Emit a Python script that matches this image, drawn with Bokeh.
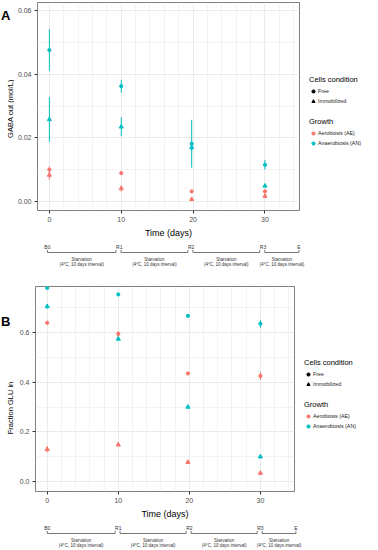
import math
from bokeh.plotting import figure
from bokeh.models import (Range1d, FixedTicker, Legend, LegendItem,
                          ColumnDataSource, PrintfTickFormatter, Spacer)
from bokeh.layouts import column, row
from bokeh.embed import file_html
from bokeh.resources import INLINE
from bokeh.core.properties import value

# ---------------- data ----------------
days = [0, 10, 19.8, 30]

# Panel A : GABA out (mol/L)
gaba_ae_free = [0.0101, 0.0090, 0.0033, 0.0033]
gaba_ae_free_err = [0.0010, 0.0006, 0.0004, 0.0006]
gaba_ae_immo = [0.0084, 0.0042, 0.0008, 0.0018]
gaba_ae_immo_err = [0.0015, 0.0010, 0.0004, 0.0006]
gaba_an_free = [0.0475, 0.0362, 0.0182, 0.0116]
gaba_an_free_err = [0.0065, 0.0020, 0.0075, 0.0015]
gaba_an_immo = [0.0258, 0.0235, 0.0170, 0.0050]
gaba_an_immo_err = [0.0070, 0.0030, 0.0010, 0.0005]

# Panel B : Fraction GLU in
glu_ae_free = [0.639, 0.594, 0.435, 0.425]
glu_ae_free_err = [0.006, 0.012, 0.004, 0.016]
glu_ae_immo = [0.130, 0.148, 0.078, 0.034]
glu_ae_immo_err = [0.012, 0.006, 0.004, 0.004]
glu_an_free = [0.779, 0.753, 0.667, 0.635]
glu_an_free_err = [0.004, 0.004, 0.004, 0.016]
glu_an_immo = [0.705, 0.574, 0.300, 0.100]
glu_an_immo_err = [0.010, 0.006, 0.004, 0.004]

x_ticks = [0, 10, 20, 30]
x_minor = [2, 4, 6, 8, 12, 14, 16, 18, 22, 24, 26, 28, 32, 34]
a_ticks = [0.00, 0.02, 0.04, 0.06]
a_minor = [0.01, 0.03, 0.05]
b_ticks = [0.0, 0.2, 0.4, 0.6]
b_minor = [0.1, 0.3, 0.5, 0.7]

tl_labels = ["B0", "R1", "R2", "R3", "E"]
tl_pos = [0, 10, 20, 30, 35]
phase_line1 = "Starvation"
phase_line2 = "(4°C, 10 days interval)"

cond_title = "Cells condition"
cond_labels = ["Free", "Immobilized"]
growth_title = "Growth"
growth_labels = ["Aerobiosis (AE)", "Anaerobiosis (AN)"]

# ---------------- style ----------------
FONT = "Liberation Sans"
RED = "#F8766D"
CYAN = "#00BFC4"
GRID = "#EBEBEB"
X0, X1 = -1.65, 34.8
LW = 14          # left strip (panel letter + y title)
AXW = 21         # y-axis border
LEFT = LW + AXW
RB = 10
TOTAL_W = 362
TL_H = 27
TL_EXTRA = 14
SZ_C, SZ_T = 3.2, 4.2
NAN = float("nan")


def panel(yr, yticks, yminor, yfmt, series, frame_w, frame_h, top):
    p = figure(frame_width=frame_w, frame_height=frame_h,
               x_range=Range1d(X0, X1), y_range=Range1d(*yr),
               output_backend="svg", toolbar_location=None,
               min_border_left=AXW, min_border_right=RB,
               min_border_top=top, min_border_bottom=0)
    p.outline_line_color = "#808080"
    p.outline_line_width = 1
    xt = FixedTicker(ticks=x_ticks, minor_ticks=x_minor)
    yt = FixedTicker(ticks=yticks, minor_ticks=yminor)
    p.xaxis.ticker = xt
    p.yaxis.ticker = yt
    p.xgrid.ticker = xt
    p.ygrid.ticker = yt
    p.yaxis.formatter = PrintfTickFormatter(format=yfmt)
    for g in (p.xgrid, p.ygrid):
        g.grid_line_color = GRID
        g.grid_line_width = 1
        g.minor_grid_line_color = GRID
        g.minor_grid_line_width = 0.6
    for ax in (p.xaxis, p.yaxis):
        ax.axis_line_color = None
        ax.major_tick_line_color = "#333333"
        ax.major_tick_out = 3
        ax.major_tick_in = 0
        ax.minor_tick_line_color = None
        ax.major_label_text_font = FONT
        ax.major_label_text_font_size = "7px"
        ax.major_label_text_color = "#4D4D4D"
        ax.major_label_standoff = 2
    p.xaxis.axis_label = "Time (days)"
    p.xaxis.axis_label_text_font = FONT
    p.xaxis.axis_label_text_font_style = "normal"
    p.xaxis.axis_label_text_color = "black"
    p.xaxis.axis_label_text_font_size = "9px"
    p.xaxis.axis_label_standoff = 3

    for vals, errs, color, marker, size in series:
        src = ColumnDataSource(dict(
            x=days, y=vals,
            lo=[v - e for v, e in zip(vals, errs)],
            hi=[v + e for v, e in zip(vals, errs)]))
        p.segment(x0="x", y0="lo", x1="x", y1="hi", source=src,
                  line_color=color, line_width=1)
        p.scatter(x="x", y="y", source=src, marker=marker, size=size,
                  fill_color=color, line_color=color)
    return p


def left_fig(letter, letter_y, ylabel, top, frame_h):
    H = top + frame_h
    f = figure(frame_width=LW, frame_height=H, x_range=Range1d(0, LW), y_range=Range1d(H, 0),
               x_axis_type=None, y_axis_type=None,
               output_backend="svg", toolbar_location=None, min_border=0)
    f.grid.visible = False
    f.outline_line_color = None
    f.text(x=[0.5], y=[letter_y], text=[letter], text_font=value(FONT),
           text_font_size="13px", text_font_style="bold",
           text_align="left", text_baseline="alphabetic", text_color="black")
    f.text(x=[9.5], y=[top + frame_h / 2], text=[ylabel], angle=math.pi / 2,
           text_font=value(FONT), text_font_size="7.5px",
           text_align="center", text_baseline="middle", text_color="black")
    return f


def legend_fig(title, labels, markers, colors, sizes, w, h):
    f = figure(frame_width=w, frame_height=h, x_range=Range1d(0, 1), y_range=Range1d(0, 1),
               x_axis_type=None, y_axis_type=None,
               output_backend="svg", toolbar_location=None, min_border=0)
    f.grid.visible = False
    f.outline_line_color = None
    rends = [f.scatter(x=[NAN], y=[NAN], marker=m, size=s, fill_color=c, line_color=c)
             for m, c, s in zip(markers, colors, sizes)]
    lg = Legend(items=[LegendItem(label=l, renderers=[r]) for l, r in zip(labels, rends)],
                title=title, location="top_left",
                border_line_color=None, background_fill_alpha=0,
                padding=0, margin=0, spacing=1,
                glyph_width=8, glyph_height=8, label_height=9,
                label_standoff=1,
                label_text_font=FONT, label_text_font_size="5.3px",
                label_text_color="#222222",
                title_text_font=FONT, title_text_font_size="7.5px",
                title_text_color="black",
                title_text_font_style="normal", title_standoff=2)
    f.add_layout(lg, "center")
    return f


def legend_col(w, offset):
    l1 = legend_fig(cond_title, cond_labels, ["circle", "triangle"], ["black", "black"],
                    [SZ_C, SZ_T], w, 42)
    l2 = legend_fig(growth_title, growth_labels, ["circle", "circle"], [RED, CYAN],
                    [SZ_C, SZ_C], w, 40)
    return column(Spacer(width=w, height=offset), l1, l2, spacing=0)


def timeline(frame_w):
    ppd = frame_w / (X1 - X0)
    p = figure(frame_width=frame_w + TL_EXTRA, frame_height=TL_H,
               x_range=Range1d(X0, X1 + TL_EXTRA / ppd), y_range=Range1d(TL_H, 0),
               x_axis_type=None, y_axis_type=None,
               output_backend="svg", toolbar_location=None,
               min_border_left=LEFT, min_border_right=0,
               min_border_top=0, min_border_bottom=0)
    p.grid.visible = False
    p.outline_line_color = None
    n = len(tl_pos)
    starts = [tl_pos[i] + (0.0 if i == 0 else 0.25) for i in range(n - 1)]
    ends = [tl_pos[i + 1] - (0.45 if i + 1 < n - 1 else 0.0) for i in range(n - 1)]
    mids = [(s + e) / 2 for s, e in zip(starts, ends)]
    line_y = 12
    p.text(x=tl_pos, y=[6] * n, text=tl_labels, text_font=value(FONT),
           text_font_size="5px", text_align="center", text_baseline="middle",
           text_color="#333333")
    p.segment(x0=starts, y0=[line_y] * (n - 1), x1=ends, y1=[line_y] * (n - 1),
              line_color="#555555", line_width=0.8)
    p.segment(x0=starts + ends, y0=[line_y] * (2 * n - 2), x1=starts + ends,
              y1=[line_y - 2.5] * (2 * n - 2), line_color="#555555", line_width=0.8)
    p.text(x=mids, y=[18.5] * (n - 1), text=[phase_line1] * (n - 1), text_font=value(FONT),
           text_font_size="4.5px", text_align="center", text_baseline="middle",
           text_color="#333333")
    p.text(x=mids, y=[23.5] * (n - 1), text=[phase_line2] * (n - 1), text_font=value(FONT),
           text_font_size="4.5px", text_align="center", text_baseline="middle",
           text_color="#333333")
    return p


series_a = [
    (gaba_ae_free, gaba_ae_free_err, RED, "circle", SZ_C),
    (gaba_ae_immo, gaba_ae_immo_err, RED, "triangle", SZ_T),
    (gaba_an_free, gaba_an_free_err, CYAN, "circle", SZ_C),
    (gaba_an_immo, gaba_an_immo_err, CYAN, "triangle", SZ_T),
]
series_b = [
    (glu_ae_free, glu_ae_free_err, RED, "circle", SZ_C),
    (glu_ae_immo, glu_ae_immo_err, RED, "triangle", SZ_T),
    (glu_an_free, glu_an_free_err, CYAN, "circle", SZ_C),
    (glu_an_immo, glu_an_immo_err, CYAN, "triangle", SZ_T),
]

WA, WB = 262, 259
HA, HB = 208, 205
TA, TB = 2, 19
pa = panel((-0.0027, 0.0624), a_ticks, a_minor, "%.2f", series_a, WA, HA, TA)
pb = panel((-0.04, 0.785), b_ticks, b_minor, "%.1f", series_b, WB, HB, TB)
fa = left_fig("A", 12.5, "GABA out (mol/L)", TA, HA)
fb = left_fig("B", 35, "Fraction GLU in", TB, HB)
ta = timeline(WA)
tb = timeline(WB)

la = legend_col(TOTAL_W - LEFT - WA - RB, 75)
lb = legend_col(TOTAL_W - LEFT - WB - RB, 91)

layout = column(row(fa, pa, la, spacing=0), ta,
                row(fb, pb, lb, spacing=0), tb, spacing=0)
open("out.html", "w").write(file_html(layout, INLINE))
